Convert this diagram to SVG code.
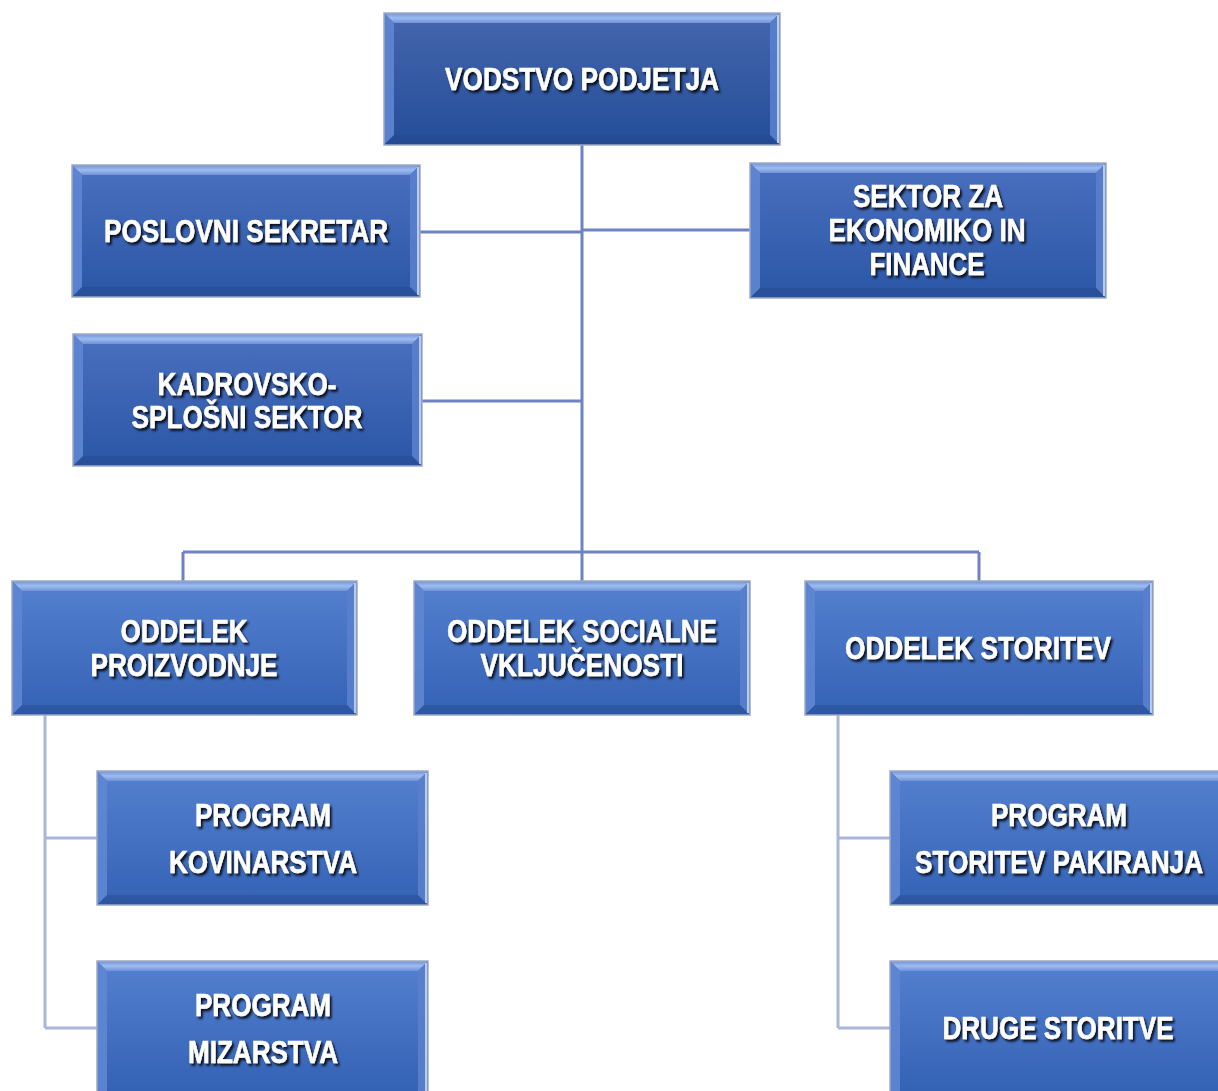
<svg xmlns="http://www.w3.org/2000/svg" width="1218" height="1091" viewBox="0 0 1218 1091">
<defs>
<linearGradient id="bodyDark" x1="0" y1="0" x2="0" y2="1"><stop offset="0" stop-color="#4566ad"/><stop offset="1" stop-color="#244e99"/></linearGradient>
<linearGradient id="bodyMid" x1="0" y1="0" x2="0" y2="1"><stop offset="0" stop-color="#4a70bf"/><stop offset="1" stop-color="#2b56a6"/></linearGradient>
<linearGradient id="bodyLight" x1="0" y1="0" x2="0" y2="1"><stop offset="0" stop-color="#5580d0"/><stop offset="1" stop-color="#3462b4"/></linearGradient>
<linearGradient id="topBev" x1="0" y1="0" x2="0" y2="1"><stop offset="0" stop-color="#6f92d8"/><stop offset="0.5" stop-color="#9fbcef"/><stop offset="1" stop-color="#6f92d8"/></linearGradient>
<filter id="ts" x="-10%" y="-30%" width="120%" height="160%"><feDropShadow dx="2" dy="2.5" stdDeviation="1" flood-color="#000" flood-opacity="0.85"/></filter>
</defs>
<style>
.bt{fill:url(#topBev)}
.bl{fill:#5f86d2;opacity:0.9}
.br{fill:#5a80cc;opacity:0.9}
.bb{fill:#24498f;opacity:0.45}
.edge{fill:none;stroke:#9ea9c2;stroke-width:1.5}
.redge{stroke:#d8e4f8;stroke-width:1.5}
text{font-family:"Liberation Sans",Arial,sans-serif;font-weight:bold;font-size:32px;fill:#fff;text-anchor:middle;filter:url(#ts);stroke:#fff;stroke-width:0.5}
.c1{fill:none;stroke:#6e83c3;stroke-width:3}
.c2{fill:none;stroke:#a9b5d9;stroke-width:3}
</style>
<rect width="1218" height="1091" fill="#fff"/>
<g id="connectors">
<path class="c1" d="M582,145 V581 M420,232 H582 M582,230 H750 M422,401 H582 M183,552 H979 M183,552 V581 M979,552 V581"/>
<path class="c2" d="M45,715 V1028 M45,838 H97 M45,1028 H97 M838,715 V1028 M838,838 H890 M838,1028 H890"/>
</g>
<g id="n1">
<rect x="384" y="13" width="396" height="132" fill="url(#bodyDark)"/>
<polygon class="bt" points="384,13 780,13 770,23 394,23"/>
<polygon class="bl" points="384,13 394,23 394,135 384,145"/>
<polygon class="br" points="780,13 780,145 770,135 770,23"/>
<polygon class="bb" points="384,145 394,135 770,135 780,145"/>
<line class="redge" x1="778" y1="15" x2="778" y2="143"/>
<rect class="edge" x="384" y="13" width="396" height="132"/>
<text x="582" y="90" textLength="274" lengthAdjust="spacingAndGlyphs">VODSTVO PODJETJA</text>
</g>
<g id="n2">
<rect x="72" y="165" width="348" height="132" fill="url(#bodyMid)"/>
<polygon class="bt" points="72,165 420,165 410,175 82,175"/>
<polygon class="bl" points="72,165 82,175 82,287 72,297"/>
<polygon class="br" points="420,165 420,297 410,287 410,175"/>
<polygon class="bb" points="72,297 82,287 410,287 420,297"/>
<line class="redge" x1="418" y1="167" x2="418" y2="295"/>
<rect class="edge" x="72" y="165" width="348" height="132"/>
<text x="246" y="242" textLength="284" lengthAdjust="spacingAndGlyphs">POSLOVNI SEKRETAR</text>
</g>
<g id="n3">
<rect x="750" y="163" width="356" height="135" fill="url(#bodyMid)"/>
<polygon class="bt" points="750,163 1106,163 1096,173 760,173"/>
<polygon class="bl" points="750,163 760,173 760,288 750,298"/>
<polygon class="br" points="1106,163 1106,298 1096,288 1096,173"/>
<polygon class="bb" points="750,298 760,288 1096,288 1106,298"/>
<line class="redge" x1="1104" y1="165" x2="1104" y2="296"/>
<rect class="edge" x="750" y="163" width="356" height="135"/>
<text x="928" y="207" textLength="150" lengthAdjust="spacingAndGlyphs">SEKTOR ZA</text>
<text x="927" y="241" textLength="197" lengthAdjust="spacingAndGlyphs">EKONOMIKO IN</text>
<text x="927" y="275" textLength="115" lengthAdjust="spacingAndGlyphs">FINANCE</text>
</g>
<g id="n4">
<rect x="73" y="334" width="349" height="132" fill="url(#bodyMid)"/>
<polygon class="bt" points="73,334 422,334 412,344 83,344"/>
<polygon class="bl" points="73,334 83,344 83,456 73,466"/>
<polygon class="br" points="422,334 422,466 412,456 412,344"/>
<polygon class="bb" points="73,466 83,456 412,456 422,466"/>
<line class="redge" x1="420" y1="336" x2="420" y2="464"/>
<rect class="edge" x="73" y="334" width="349" height="132"/>
<text x="247" y="395" textLength="179" lengthAdjust="spacingAndGlyphs">KADROVSKO-</text>
<text x="247" y="428" textLength="231" lengthAdjust="spacingAndGlyphs">SPLOŠNI SEKTOR</text>
</g>
<g id="n5">
<rect x="12" y="581" width="345" height="134" fill="url(#bodyLight)"/>
<polygon class="bt" points="12,581 357,581 347,591 22,591"/>
<polygon class="bl" points="12,581 22,591 22,705 12,715"/>
<polygon class="br" points="357,581 357,715 347,705 347,591"/>
<polygon class="bb" points="12,715 22,705 347,705 357,715"/>
<line class="redge" x1="355" y1="583" x2="355" y2="713"/>
<rect class="edge" x="12" y="581" width="345" height="134"/>
<text x="184" y="642" textLength="127" lengthAdjust="spacingAndGlyphs">ODDELEK</text>
<text x="184" y="676" textLength="187" lengthAdjust="spacingAndGlyphs">PROIZVODNJE</text>
</g>
<g id="n6">
<rect x="414" y="581" width="336" height="134" fill="url(#bodyLight)"/>
<polygon class="bt" points="414,581 750,581 740,591 424,591"/>
<polygon class="bl" points="414,581 424,591 424,705 414,715"/>
<polygon class="br" points="750,581 750,715 740,705 740,591"/>
<polygon class="bb" points="414,715 424,705 740,705 750,715"/>
<line class="redge" x1="748" y1="583" x2="748" y2="713"/>
<rect class="edge" x="414" y="581" width="336" height="134"/>
<text x="582" y="642" textLength="270" lengthAdjust="spacingAndGlyphs">ODDELEK SOCIALNE</text>
<text x="582" y="676" textLength="203" lengthAdjust="spacingAndGlyphs">VKLJUČENOSTI</text>
</g>
<g id="n7">
<rect x="805" y="581" width="348" height="134" fill="url(#bodyLight)"/>
<polygon class="bt" points="805,581 1153,581 1143,591 815,591"/>
<polygon class="bl" points="805,581 815,591 815,705 805,715"/>
<polygon class="br" points="1153,581 1153,715 1143,705 1143,591"/>
<polygon class="bb" points="805,715 815,705 1143,705 1153,715"/>
<line class="redge" x1="1151" y1="583" x2="1151" y2="713"/>
<rect class="edge" x="805" y="581" width="348" height="134"/>
<text x="978" y="659" textLength="266" lengthAdjust="spacingAndGlyphs">ODDELEK STORITEV</text>
</g>
<g id="n8">
<rect x="97" y="771" width="331" height="134" fill="url(#bodyLight)"/>
<polygon class="bt" points="97,771 428,771 418,781 107,781"/>
<polygon class="bl" points="97,771 107,781 107,895 97,905"/>
<polygon class="br" points="428,771 428,905 418,895 418,781"/>
<polygon class="bb" points="97,905 107,895 418,895 428,905"/>
<line class="redge" x1="426" y1="773" x2="426" y2="903"/>
<rect class="edge" x="97" y="771" width="331" height="134"/>
<text x="263" y="826" textLength="136" lengthAdjust="spacingAndGlyphs">PROGRAM</text>
<text x="263" y="873" textLength="188" lengthAdjust="spacingAndGlyphs">KOVINARSTVA</text>
</g>
<g id="n9">
<rect x="97" y="961" width="331" height="130" fill="url(#bodyLight)"/>
<polygon class="bt" points="97,961 428,961 418,971 107,971"/>
<polygon class="bl" points="97,961 107,971 107,1091 97,1091"/>
<polygon class="br" points="428,961 428,1091 418,1091 418,971"/>
<line class="redge" x1="426" y1="963" x2="426" y2="1091"/>
<path class="edge" d="M97,1091 V961 H428 V1091"/>
<text x="263" y="1016" textLength="136" lengthAdjust="spacingAndGlyphs">PROGRAM</text>
<text x="263" y="1063" textLength="150" lengthAdjust="spacingAndGlyphs">MIZARSTVA</text>
</g>
<g id="n10">
<rect x="890" y="771" width="328" height="134" fill="url(#bodyLight)"/>
<polygon class="bt" points="890,771 1218,771 1218,781 900,781"/>
<polygon class="bl" points="890,771 900,781 900,895 890,905"/>
<polygon class="bb" points="890,905 900,895 1218,895 1218,905"/>
<path class="edge" d="M1218,771 H890 V905 H1218"/>
<text x="1059" y="826" textLength="136" lengthAdjust="spacingAndGlyphs">PROGRAM</text>
<text x="1059" y="873" textLength="288" lengthAdjust="spacingAndGlyphs">STORITEV PAKIRANJA</text>
</g>
<g id="n11">
<rect x="890" y="961" width="328" height="130" fill="url(#bodyLight)"/>
<polygon class="bt" points="890,961 1218,961 1218,971 900,971"/>
<polygon class="bl" points="890,961 900,971 900,1091 890,1091"/>
<path class="edge" d="M1218,961 H890 V1091"/>
<text x="1058" y="1039" textLength="231" lengthAdjust="spacingAndGlyphs">DRUGE STORITVE</text>
</g>
</svg>
